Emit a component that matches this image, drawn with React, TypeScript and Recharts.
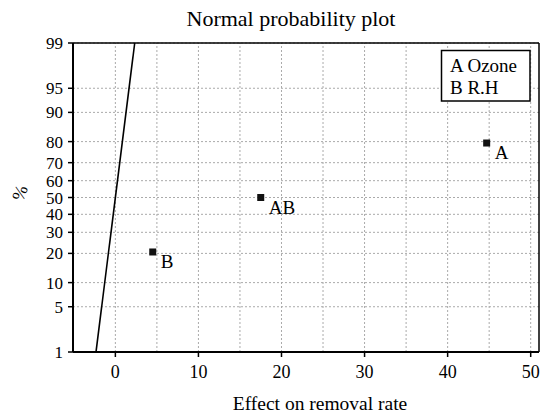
import React from 'react';
import { ScatterChart, Scatter, XAxis, YAxis, CartesianGrid, ReferenceLine } from 'recharts';

// effects (x = effect, y = cumulative %)
const effectNames = ['B', 'AB', 'A'];
const effectValues = [4.5, 17.5, 44.7];
const effectPercents = [20.6, 50, 79.4];

// reference line ends
const fitLineX = [-2.33, 2.33];
const fitLinePercents = [1, 99];

const yTickPercents = [1, 5, 10, 20, 30, 40, 50, 60, 70, 80, 90, 95, 99];
const xTicks = [0, 10, 20, 30, 40, 50];
const xGridValues = [0, 5, 10, 15, 20, 25, 30, 35, 40, 45, 50];
const legendItems = ['A Ozone', 'B R.H'];

// inverse normal cdf (Acklam) - used for the probability scale
const probit = (p: number): number => {
  const a = [-39.69683028665376, 220.9460984245205, -275.9285104469687, 138.357751867269, -30.66479806614716, 2.506628277459239];
  const b = [-54.47609879822406, 161.5858368580409, -155.6989798598866, 66.80131188771972, -13.28068155288572];
  const c = [-0.007784894002430293, -0.3223964580411365, -2.400758277161838, -2.549732539343734, 4.374664141464968, 2.938163982698783];
  const d = [0.007784695709041462, 0.3224671290700398, 2.445134137142996, 3.754408661907416];
  const pl = 0.02425;
  if (p < pl) {
    const q = Math.sqrt(-2 * Math.log(p));
    return (((((c[0] * q + c[1]) * q + c[2]) * q + c[3]) * q + c[4]) * q + c[5]) / ((((d[0] * q + d[1]) * q + d[2]) * q + d[3]) * q + 1);
  }
  if (p > 1 - pl) {
    const q = Math.sqrt(-2 * Math.log(1 - p));
    return -(((((c[0] * q + c[1]) * q + c[2]) * q + c[3]) * q + c[4]) * q + c[5]) / ((((d[0] * q + d[1]) * q + d[2]) * q + d[3]) * q + 1);
  }
  const q = p - 0.5;
  const r = q * q;
  return (((((a[0] * r + a[1]) * r + a[2]) * r + a[3]) * r + a[4]) * r + a[5]) * q / (((((b[0] * r + b[1]) * r + b[2]) * r + b[3]) * r + b[4]) * r + 1);
};

const effects = effectNames.map((name, i) => ({ name, x: effectValues[i], z: probit(effectPercents[i] / 100) }));
const fitLine = fitLineX.map((x, i) => ({ x, z: probit(fitLinePercents[i] / 100) }));
const yTicks = yTickPercents.map(p => probit(p / 100));
const yMin = probit(0.01);
const yMax = probit(0.99);

const FONT = '"Liberation Serif", "Times New Roman", serif';

const EffectMark = (props: any) => {
  const { cx, cy, payload } = props;
  return (
    <g>
      <rect x={cx - 3.5} y={cy - 3.5} width={7} height={7} fill="#111" />
      <text x={cx + 8} y={cy + 16} fontSize={19} fontFamily={FONT} fill="#000">{payload.name}</text>
    </g>
  );
};

export default function App() {
  return (
    <div style={{ position: 'absolute', left: 0, top: 0, width: 546, height: 413, background: '#fff' }}>
      <ScatterChart width={546} height={413} margin={{ top: 43, right: 7, bottom: 31, left: 13 }}>
        <CartesianGrid vertical={false} stroke="#aaa" strokeDasharray="2 2" />
        {xGridValues.map(v => (
          <ReferenceLine key={v} x={v} stroke="#aaa" strokeDasharray="2 2" />
        ))}
        <ReferenceLine y={yMax} stroke="#000" strokeWidth={1.5} />
        <ReferenceLine x={51} stroke="#000" strokeWidth={1.5} />
        <XAxis
          type="number"
          dataKey="x"
          domain={[-5.1, 51]}
          ticks={xTicks}
          allowDataOverflow
          height={30}
          axisLine={{ stroke: '#000', strokeWidth: 2 }}
          tickLine={{ stroke: '#000', strokeWidth: 1.5 }}
          tickSize={5}
          tickMargin={8}
          tick={{ fill: '#000', fontSize: 18, fontFamily: FONT }}
        />
        <YAxis
          type="number"
          dataKey="z"
          domain={[yMin, yMax]}
          ticks={yTicks}
          interval={0}
          allowDataOverflow
          width={60}
          axisLine={{ stroke: '#000', strokeWidth: 2 }}
          tickLine={{ stroke: '#000', strokeWidth: 1.5 }}
          tickSize={5}
          tickMargin={5}
          tick={{ fill: '#000', fontSize: 17, fontFamily: FONT }}
          tickFormatter={(v: number) => {
            let best = 0;
            yTicks.forEach((t, i) => { if (Math.abs(t - v) < Math.abs(yTicks[best] - v)) best = i; });
            return String(yTickPercents[best]);
          }}
        />
        <Scatter data={fitLine} line={{ stroke: '#000', strokeWidth: 1.6 }} shape={() => <g />} isAnimationActive={false} />
        <Scatter data={effects} shape={EffectMark} isAnimationActive={false} />
      </ScatterChart>
      <svg width={546} height={413} style={{ position: 'absolute', left: 0, top: 0, pointerEvents: 'none' }}>
        <text x={291} y={26} textAnchor="middle" fontSize={22} fontFamily={FONT} fill="#000">Normal probability plot</text>
        <text x={320} y={410} textAnchor="middle" fontSize={19.5} fontFamily={FONT} fill="#000">Effect on removal rate</text>
        <text x={20} y={199} textAnchor="middle" fontSize={18} fontFamily={FONT} fill="#000" transform="rotate(-70 20 193)">%</text>
        <rect x={441.5} y={50.5} width={88.5} height={50.5} fill="#fff" stroke="#000" strokeWidth={1.5} />
        {legendItems.map((t, i) => (
          <text key={t} x={450} y={72 + i * 21.5} fontSize={19} fontFamily={FONT} fill="#000">{t}</text>
        ))}
      </svg>
    </div>
  );
}
